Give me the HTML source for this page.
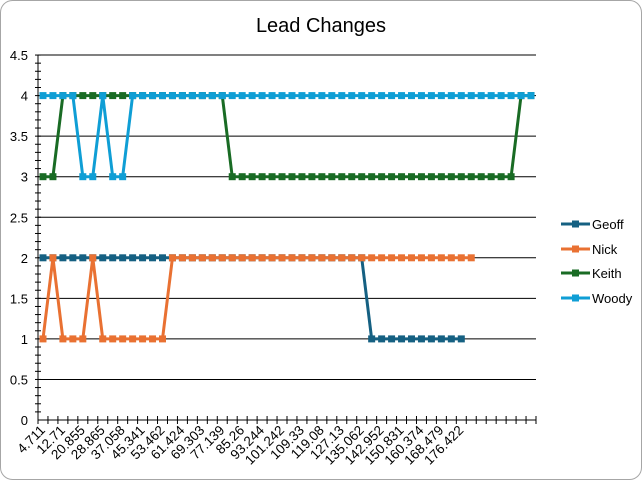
<!DOCTYPE html>
<html><head><meta charset="utf-8"><style>
html,body{margin:0;padding:0;background:#fff;width:642px;height:480px;overflow:hidden}
</style></head><body>
<svg id="s" width="642" height="480" xmlns="http://www.w3.org/2000/svg" font-family="Liberation Sans, sans-serif"></svg>
<script>
const s=document.getElementById('s');let h='';
h+='<rect x="0.5" y="0.5" width="641" height="479" rx="12" fill="#fff" stroke="#a6a6a6" stroke-width="1"/>';
h+='<text x="321" y="32" text-anchor="middle" font-size="20" fill="#000">Lead Changes</text>';
const X0=38,X1=536,N=50,w=(X1-X0)/N;
const Y=v=>420-v*81.1;
for(let k=1;k<=9;k++){const y=Y(k*0.5);h+=`<line x1="${X0}" x2="${X1}" y1="${y}" y2="${y}" stroke="#000" stroke-width="1"/>`;}
for(let k=0;k<=9;k++){const y=Y(k*0.5);h+=`<text x="28" y="${y+5}" text-anchor="end" font-size="13" fill="#000">${(k*0.5).toString()}</text>`;}
for(let k=1;k<=45;k++){const y=Y(k*0.1);h+=`<line x1="${X0-3}" x2="${X0+3}" y1="${y}" y2="${y}" stroke="#000"/>`;}
h+=`<line x1="${X0}" x2="${X0}" y1="${Y(4.5)}" y2="420" stroke="#000"/>`;
h+=`<line x1="${X0}" x2="${X1}" y1="420" y2="420" stroke="#000"/>`;
for(let i=0;i<=N;i++){const x=X0+i*w;h+=`<line x1="${x}" x2="${x}" y1="416" y2="424" stroke="#000"/>`;}
const labs=["4.711","12.71","20.855","28.865","37.058","45.341","53.462","61.424","69.303","77.139","85.26","93.244","101.242","109.33","119.08","127.13","135.062","142.952","150.831","160.374","168.479","176.422"];
labs.forEach((l,j)=>{const x=X0+(2*j+0.5)*w+3;h+=`<text transform="translate(${x},431) rotate(-45)" text-anchor="end" font-size="13.5" fill="#000">${l}</text>`;});
function arr(n,f){return Array.from({length:n},(_,i)=>f(i));}
const geoff=arr(43,i=>i<=32?2:1);
const nick=arr(44,i=>(i==0||(i>=2&&i<=4)||(i>=6&&i<=12))?1:2);
const keith=arr(50,i=>(i<=1)?3:(i<=18?4:(i<=47?3:4)));
const woody=arr(50,i=>(i==4||i==5||i==7||i==8)?3:4);
const ser=[[geoff,"#156082"],[nick,"#E97132"],[keith,"#196B24"],[woody,"#0F9ED5"]];
ser.forEach(([d,c])=>{const pts=d.map((v,i)=>`${X0+(i+0.5)*w},${Y(v)}`).join(' ');
h+=`<polyline points="${pts}" fill="none" stroke="${c}" stroke-width="3" stroke-linejoin="round"/>`;
d.forEach((v,i)=>{h+=`<rect x="${X0+(i+0.5)*w-3.5}" y="${Y(v)-3.5}" width="7" height="7" fill="${c}"/>`;});});
const names=["Geoff","Nick","Keith","Woody"],ly=[224,249,273,298];
ser.forEach(([d,c],k)=>{h+=`<line x1="561" x2="590" y1="${ly[k]}" y2="${ly[k]}" stroke="${c}" stroke-width="3"/><rect x="572" y="${ly[k]-3.5}" width="7" height="7" fill="${c}"/><text x="592" y="${ly[k]+5}" font-size="13" fill="#000">${names[k]}</text>`;});
s.innerHTML=h;
</script>
</body></html>
